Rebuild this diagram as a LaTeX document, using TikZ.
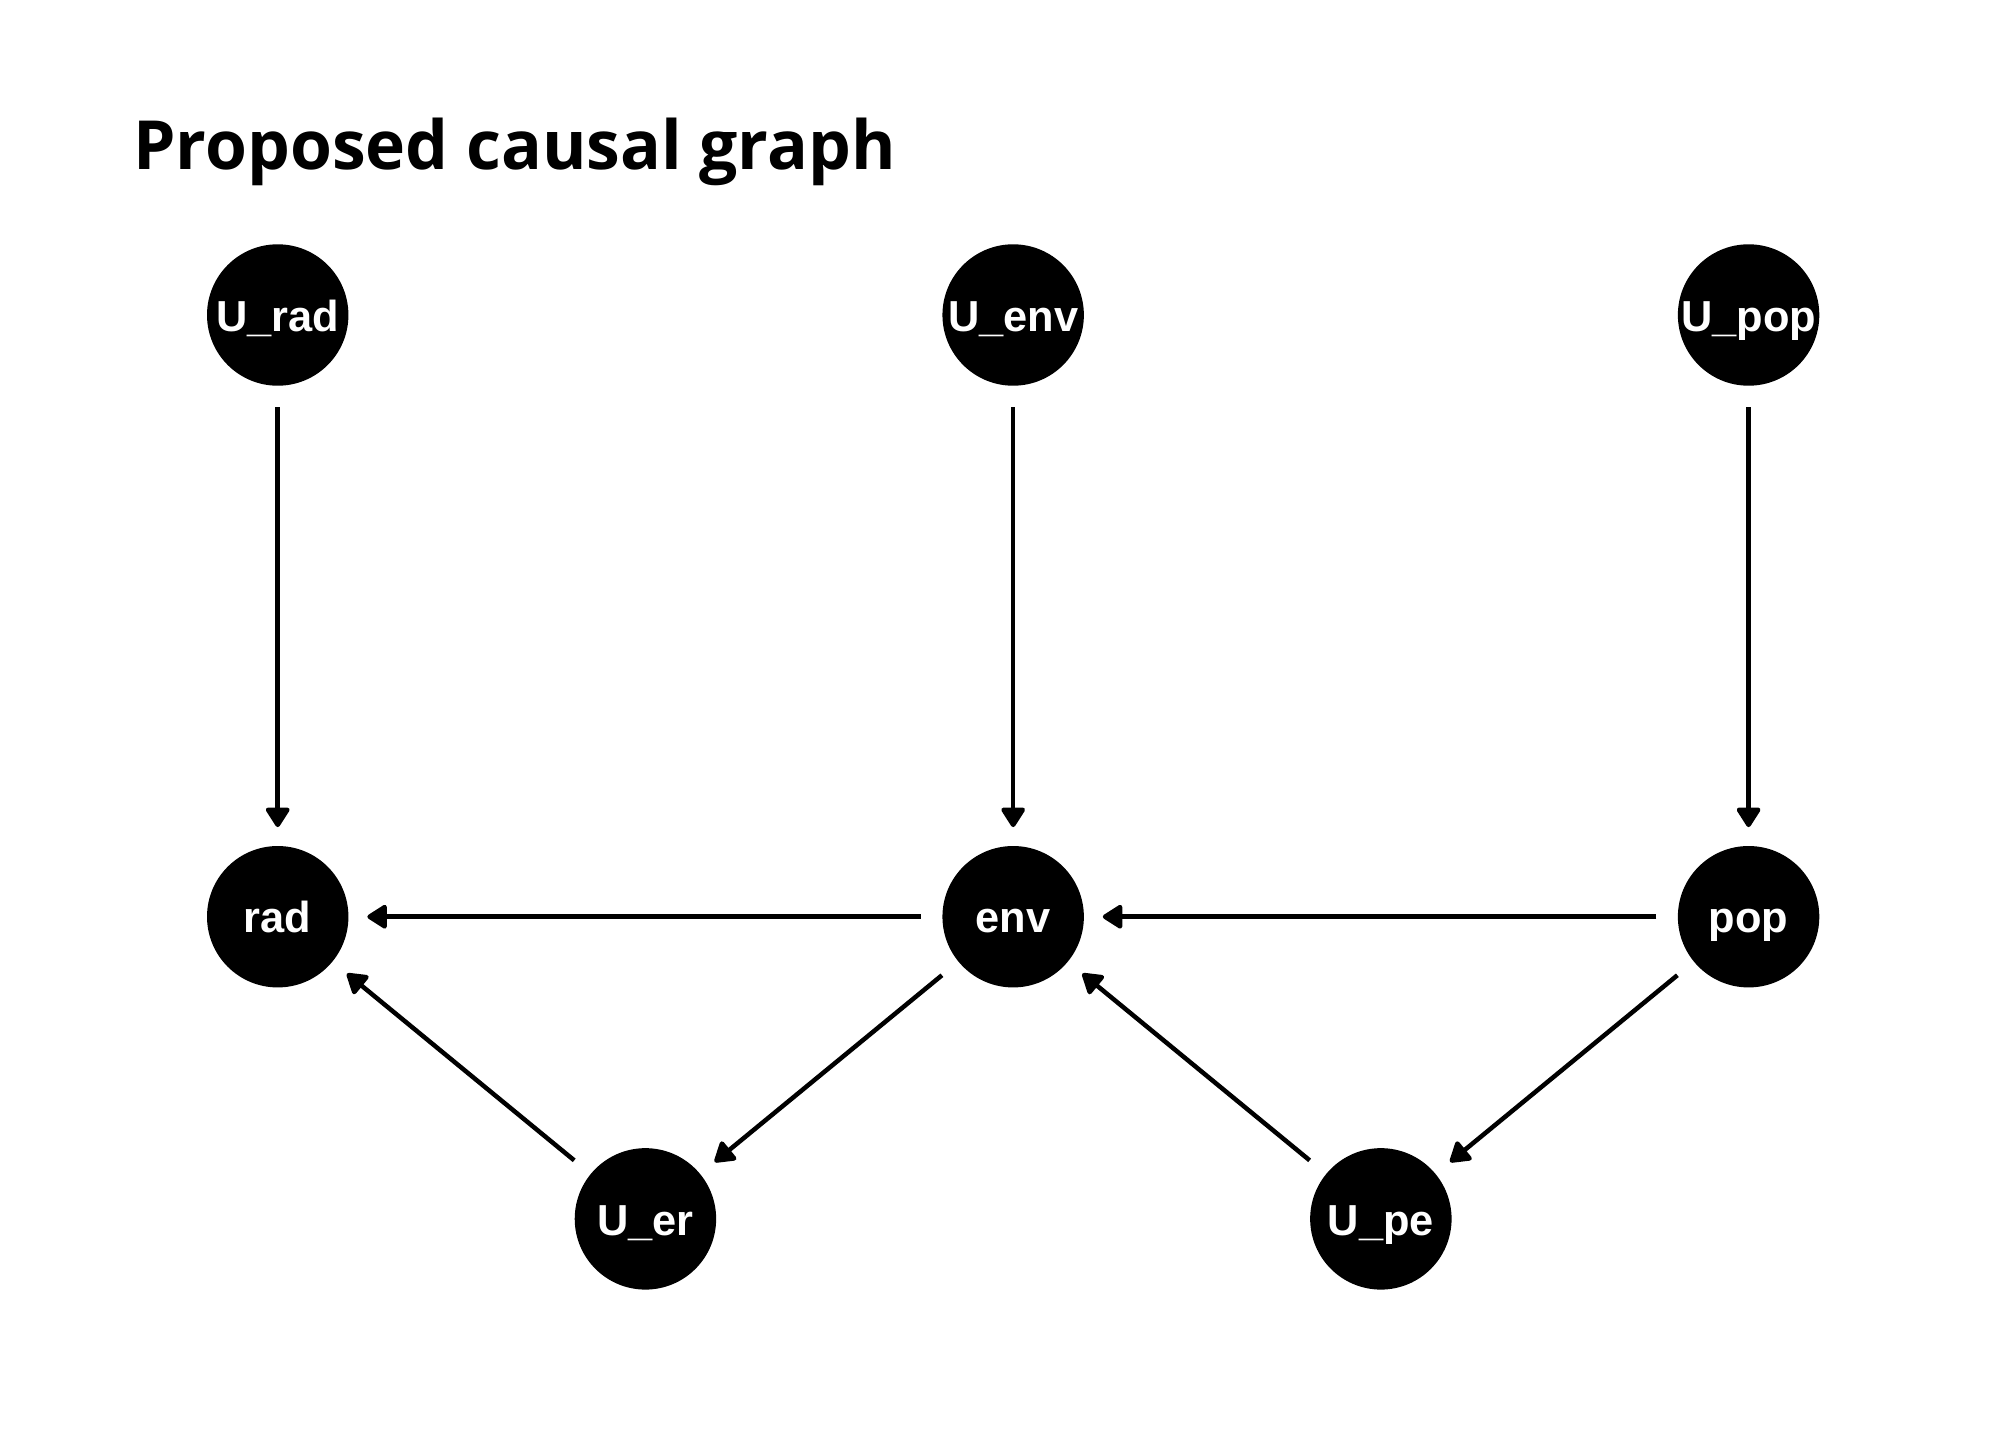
\documentclass[tikz,border=0pt]{standalone}
\usepackage{fontspec}
\newfontfamily\titlefont{Open Sans}
\newfontfamily\labelfont{Liberation Sans}
\usepackage{tikz}
\usetikzlibrary{arrows.meta}
\definecolor{nodeblack}{RGB}{0, 0, 0}

\begin{document}
\begin{tikzpicture}[
    var/.style={circle, fill=nodeblack, minimum size=1.1cm, inner sep=0pt, text=white, text height=0.72em, text depth=0pt, font=\labelfont\bfseries\fontsize{9.6}{11}\selectfont},
    edge/.style={-{Triangle[length=4.8pt, width=5.8pt, round]}, line width=1pt, shorten <=0.16cm, shorten >=0.14cm}
  ]
  \useasboundingbox (0, 0) rectangle (15.68, -11.20);

  % Title
  \node[anchor=base west, inner sep=0pt, font=\titlefont\bfseries\fontsize{15}{18}\selectfont] (title) at (1.03, -1.32) {Proposed causal graph};

  % Exogenous nodes
  \node[var] (urad) at (2.16, -2.45) {U\_rad};
  \node[var] (uenv) at (7.88, -2.45) {U\_env};
  \node[var] (upop) at (13.60, -2.45) {U\_pop};

  % Endogenous nodes
  \node[var] (rad) at (2.16, -7.13) {rad};
  \node[var] (env) at (7.88, -7.13) {env};
  \node[var] (pop) at (13.60, -7.13) {pop};

  % Confounders
  \node[var] (uer) at (5.02, -9.48) {U\_er};
  \node[var] (upe) at (10.74, -9.48) {U\_pe};

  \draw[edge] (urad) -- (rad);
  \draw[edge] (uenv) -- (env);
  \draw[edge] (upop) -- (pop);
  \draw[edge] (env) -- (rad);
  \draw[edge] (pop) -- (env);
  \draw[edge] (env) -- (uer);
  \draw[edge] (uer) -- (rad);
  \draw[edge] (pop) -- (upe);
  \draw[edge] (upe) -- (env);
\end{tikzpicture}
\end{document}
